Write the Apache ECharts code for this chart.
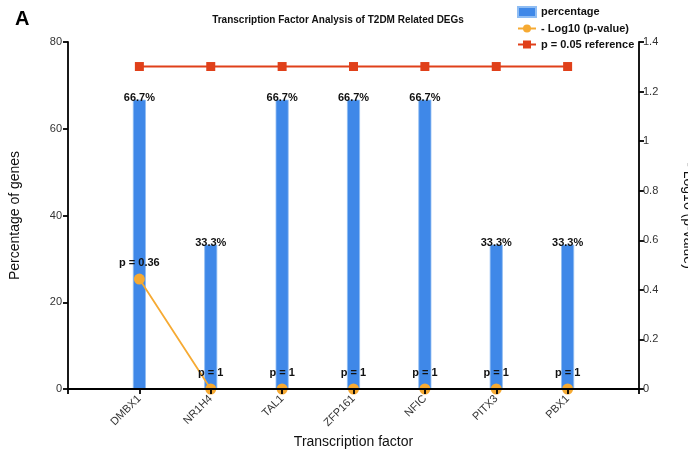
<!DOCTYPE html>
<html>
<head>
<meta charset="utf-8">
<script src="https://cdn.jsdelivr.net/npm/echarts@6/dist/echarts.min.js"></script>
<style>
  html, body { margin: 0; padding: 0; background: #fff; }
  #chart { width: 688px; height: 454px; }
</style>
</head>
<body>
<div id="chart"></div>
<script>
// Transcription factors and their results
const factors = ['DMBX1', 'NR1H4', 'TAL1', 'ZFP161', 'NFIC', 'PITX3', 'PBX1'];
const percentages = [66.7, 33.3, 66.7, 66.7, 66.7, 33.3, 33.3];
const pValues = [0.36, 1, 1, 1, 1, 1, 1];
const referenceP = 0.05;
const leftTicks = { min: 0, max: 80, interval: 20 };
const rightTicks = { min: 0, max: 1.4, interval: 0.2 };

const FONT = '"Liberation Sans", Arial, sans-serif';
const BLUE = '#3f88e8';
const ORANGE = '#f6aa33';
const RED = '#e0401a';

// factors sit at positions 1..n on a 0..n+1 axis
const pos = i => i + 1;
const negLog = p => -Math.log10(p);

const barData = percentages.map((v, i) => [pos(i), v]);
const lineData = pValues.map((p, i) => ({ value: [pos(i), negLog(p)], p: p }));
const refData = factors.map((_, i) => [pos(i), negLog(referenceP)]);

const chart = echarts.init(document.getElementById('chart'));
chart.setOption({
  animation: false,
  textStyle: { fontFamily: FONT },
  graphic: [{
    type: 'text', left: 15, top: 9,
    style: { text: 'A', fontSize: 20, fontWeight: 'bold', fill: '#000', fontFamily: FONT }
  }],
  title: {
    text: 'Transcription Factor Analysis of T2DM Related DEGs',
    left: 333, top: 10, textAlign: 'center',
    textStyle: { fontSize: 10, fontWeight: 'bold', color: '#111', fontFamily: FONT }
  },
  legend: {
    orient: 'vertical', left: 517, top: 6, itemGap: 5, padding: 0,
    itemWidth: 18, itemHeight: 10,
    textStyle: { fontSize: 11, fontWeight: 'bold', color: '#111', fontFamily: FONT },
    data: [
      { name: 'percentage', icon: 'rect' },
      { name: '- Log10 (p-value)' },
      { name: 'p = 0.05 reference' }
    ]
  },
  grid: { left: 68, right: 49, top: 42, bottom: 65, outerBoundsMode: 'none', containLabel: false },
  xAxis: {
    type: 'value', min: 0, max: factors.length + 1, interval: 1, z: 10,
    name: 'Transcription factor', nameLocation: 'middle', nameGap: 46, nameMoveOverlap: false,
    nameTextStyle: { fontSize: 14, color: '#111', fontFamily: FONT },
    axisLine: { lineStyle: { color: '#000', width: 1.8 } },
    axisTick: { length: 5, lineStyle: { color: '#000', width: 1.8 } },
    axisLabel: {
      rotate: 45, fontSize: 11, color: '#333', margin: 8,
      formatter: v => factors[v - 1] || ''
    },
    splitLine: { show: false }
  },
  yAxis: [{
    type: 'value', ...leftTicks,
    name: 'Percentage of genes', nameLocation: 'middle', nameGap: 46, nameMoveOverlap: false,
    nameTextStyle: { fontSize: 14, color: '#111', fontFamily: FONT },
    axisLine: { show: true, lineStyle: { color: '#000', width: 1.8 } },
    axisTick: { show: true, length: 5, lineStyle: { color: '#000', width: 1.8 } },
    axisLabel: { fontSize: 11, color: '#333', margin: 6 },
    splitLine: { show: false }
  }, {
    type: 'value', ...rightTicks, position: 'right',
    name: '- Log10 (p-value)', nameLocation: 'middle', nameGap: 42, nameRotate: -90,
    nameMoveOverlap: false,
    nameTextStyle: { fontSize: 14, color: '#111', fontFamily: FONT },
    axisLine: { show: true, lineStyle: { color: '#000', width: 1.8 } },
    axisTick: { show: true, length: 5, lineStyle: { color: '#000', width: 1.8 } },
    axisLabel: { fontSize: 11, color: '#333', margin: 4 },
    splitLine: { show: false }
  }],
  series: [{
    name: 'percentage', type: 'bar', yAxisIndex: 0,
    data: barData, barWidth: 13,
    itemStyle: { color: BLUE, borderColor: '#8fbdf3', borderWidth: 0.8 },
    label: {
      show: true, position: 'top', distance: -4,
      fontSize: 11, fontWeight: 'bold', color: '#111', fontFamily: FONT,
      formatter: d => d.value[1].toFixed(1) + '%'
    },
    z: 2
  }, {
    name: '- Log10 (p-value)', type: 'line', yAxisIndex: 1,
    data: lineData, symbol: 'circle', symbolSize: 11,
    lineStyle: { color: ORANGE, width: 1.8 },
    itemStyle: { color: ORANGE },
    label: {
      show: true, position: 'top', distance: 5,
      fontSize: 11, fontWeight: 'bold', color: '#111', fontFamily: FONT,
      formatter: d => 'p = ' + d.data.p
    },
    z: 4
  }, {
    name: 'p = 0.05 reference', type: 'line', yAxisIndex: 1,
    data: refData, symbol: 'rect', symbolSize: 9,
    lineStyle: { color: RED, width: 2 },
    itemStyle: { color: RED },
    z: 3
  }]
});
</script>
</body>
</html>
